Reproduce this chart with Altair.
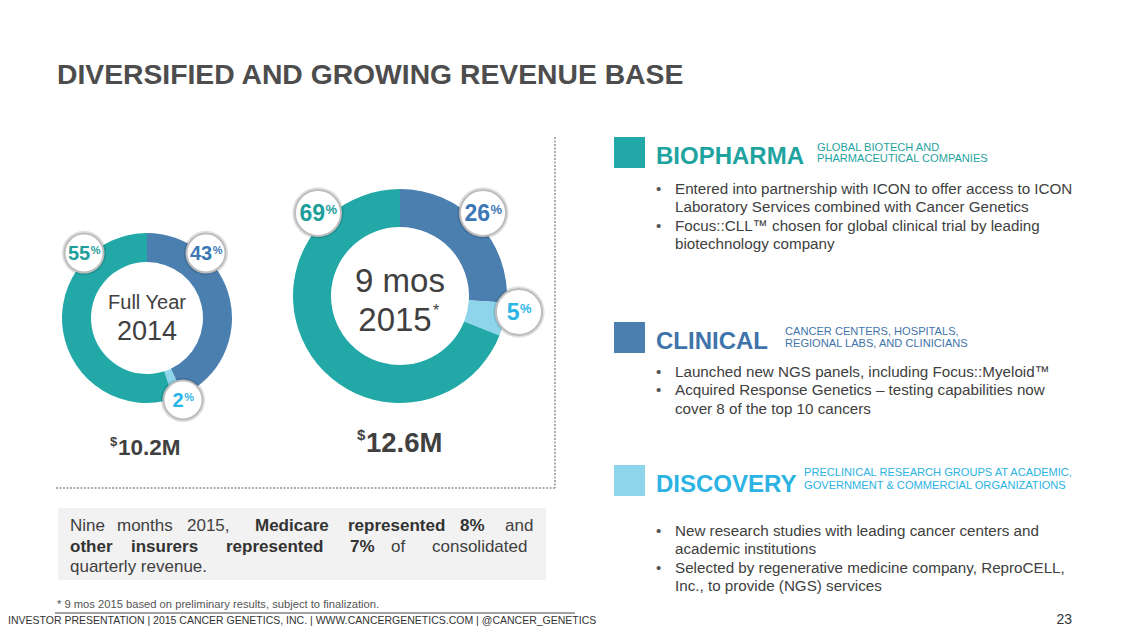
import math
import altair as alt
import pandas as pd

# ---------------- data ----------------
segments = ["Clinical", "Discovery", "Biopharma"]
share_2014 = [43, 2, 55]
share_2015 = [26, 5, 69]
period_labels = [["Full Year", "2014"], ["9 mos", "2015"]]
revenue_musd = [10.2, 12.6]

title = "DIVERSIFIED AND GROWING REVENUE BASE"
segment_titles = ["BIOPHARMA", "CLINICAL", "DISCOVERY"]
segment_keys = ["Biopharma", "Clinical", "Discovery"]
segment_subtitles = [
    ["GLOBAL BIOTECH AND", "PHARMACEUTICAL COMPANIES"],
    ["CANCER CENTERS, HOSPITALS,", "REGIONAL LABS, AND CLINICIANS"],
    ["PRECLINICAL RESEARCH GROUPS AT ACADEMIC,", "GOVERNMENT & COMMERCIAL ORGANIZATIONS"],
]
segment_bullets = [
    [["Entered into partnership with ICON to offer access to ICON",
      "Laboratory Services combined with Cancer Genetics"],
     ["Focus::CLL\u2122 chosen for global clinical trial by leading",
      "biotechnology company"]],
    [["Launched new NGS panels, including Focus::Myeloid\u2122"],
     ["Acquired Response Genetics \u2013 testing capabilities now",
      "cover 8 of the top 10 cancers"]],
    [["New research studies with leading cancer centers and",
      "academic institutions"],
     ["Selected by regenerative medicine company, ReproCELL,",
      "Inc., to provide (NGS) services"]],
]
box_words = [
    [("Nine", False), ("months", False), ("2015,", False), ("Medicare", True),
     ("represented", True), ("8%", True), ("and", False)],
    [("other", True), ("insurers", True), ("represented", True), ("7%", True),
     ("of", False), ("consolidated", False)],
    [("quarterly revenue.", False)],
]
footnote = "* 9 mos 2015 based on preliminary results, subject to finalization."
footer = "INVESTOR PRESENTATION  | 2015 CANCER GENETICS, INC. | WWW.CANCERGENETICS.COM | @CANCER_GENETICS"
page_number = "23"

# ---------------- layout / style ----------------
W, H = 1113, 619
OFF = 8
FONT = "Liberation Sans"
SEG_FILL = {"Clinical": "#4A7FB0", "Discovery": "#8ED5EC", "Biopharma": "#22A9A7"}
SEG_TEXT = {"Clinical": "#3F74AA", "Discovery": "#2BB3E3", "Biopharma": "#1FA39F"}
SEG_LABEL = {"Clinical": "#3C77B6", "Discovery": "#2BB5E6", "Biopharma": "#1E9E9A"}
DARK = "#404040"

XS = alt.Scale(domain=[0, W], nice=False, zero=False)
YS = alt.Scale(domain=[0, H], reverse=True, nice=False, zero=False)


def xf(name):
    return alt.X(f"{name}:Q", scale=XS, axis=None)


def yf(name):
    return alt.Y(f"{name}:Q", scale=YS, axis=None)


X, Y = xf("x"), yf("y")
X2 = alt.X2("x2:Q")
Y2 = alt.Y2("y2:Q")


def P(v):
    return v - OFF


def text_layer(rows, size, color, weight="normal", align="left"):
    df = pd.DataFrame([{"t": t, "x": P(x), "y": P(y)} for t, x, y in rows])
    return alt.Chart(df).mark_text(
        font=FONT, fontSize=size, color=color, fontWeight=weight,
        align=align, baseline="alphabetic"
    ).encode(x=X, y=Y, text="t:N")


layers = []

# title
layers.append(text_layer([(title, 57, 84)], 28.3, "#4D4D4D", "bold"))

# dotted separators
sep = pd.DataFrame([
    {"x": P(555), "x2": P(555), "y": P(137), "y2": P(488)},
    {"x": P(56), "x2": P(555), "y": P(488), "y2": P(488)},
])
layers.append(alt.Chart(sep).mark_rule(color="#ADADAD", strokeWidth=2, strokeDash=[2, 1.5])
              .encode(x=X, x2=X2, y=Y, y2=Y2))

# donuts
donut_geo = [
    {"cx": 147, "cy": 318, "rin": 56, "rout": 85},
    {"cx": 400, "cy": 296, "rin": 69, "rout": 107},
]
for shares, g in zip([share_2014, share_2015], donut_geo):
    df = pd.DataFrame({"segment": segments, "share": shares, "k": range(len(segments))})
    df["fill"] = [SEG_FILL[s] for s in segments]
    layers.append(
        alt.Chart(df).mark_arc(innerRadius=g["rin"], outerRadius=g["rout"]).encode(
            theta=alt.Theta("share:Q", stack=True),
            order=alt.Order("k:Q"),
            color=alt.Color("fill:N", scale=None),
            x=alt.value(P(g["cx"])), y=alt.value(P(g["cy"])),
        )
    )

# center labels
layers.append(text_layer([(period_labels[0][0], 147, 309)], 20, DARK, align="center"))
layers.append(text_layer([(period_labels[0][1], 147, 340)], 27, DARK, align="center"))
layers.append(text_layer([(period_labels[1][0], 400, 292)], 33, DARK, align="center"))
layers.append(text_layer([(period_labels[1][1], 395, 331)], 33, DARK, align="center"))
layers.append(text_layer([("*", 433, 316)], 16, DARK))

# percentage bubbles
bubble_pos = [
    {"Biopharma": (84, 253), "Clinical": (206, 253), "Discovery": (183, 400), "r": 22, "fs": 20, "ps": 11},
    {"Biopharma": (318, 213), "Clinical": (483, 213), "Discovery": (519, 312), "r": 26, "fs": 23, "ps": 13},
]
for shares, bp in zip([share_2014, share_2015], bubble_pos):
    rows = []
    for s, v in zip(segments, shares):
        cx, cy = bp[s]
        digits = str(v)
        wd = 0.556 * bp["fs"] * len(digits)
        wp = 0.889 * bp["ps"]
        start = cx - (wd + wp) / 2
        rows.append({"s": s, "v": v, "cx": P(cx), "cy": P(cy),
                     "xd": P(start + wd), "yd": P(cy + 0.36 * bp["fs"]),
                     "xp": P(start + wd + 0.5), "yp": P(cy - 0.36 * bp["fs"] + 0.72 * bp["ps"]),
                     "col": SEG_LABEL[s], "lab": digits, "pct": "%"})
    bdf = pd.DataFrame(rows)
    area = math.pi * bp["r"] ** 2
    layers.append(alt.Chart(bdf).mark_circle(size=math.pi * (bp["r"] + 3) ** 2, color="#000000", opacity=0.12)
                  .encode(x=xf("cx"), y=yf("cy")))
    layers.append(alt.Chart(bdf).mark_circle(size=area, fill="#FFFFFF", opacity=1,
                                              stroke="#BDBDBD", strokeWidth=2)
                  .encode(x=xf("cx"), y=yf("cy")))
    layers.append(alt.Chart(bdf).mark_text(font=FONT, fontSize=bp["fs"], fontWeight="bold",
                                            align="right", baseline="alphabetic")
                  .encode(x=xf("xd"), y=yf("yd"),
                          text="lab:N", color=alt.Color("col:N", scale=None)))
    layers.append(alt.Chart(bdf).mark_text(font=FONT, fontSize=bp["ps"], fontWeight="bold",
                                            align="left", baseline="alphabetic")
                  .encode(x=xf("xp"), y=yf("yp"),
                          text="pct:N", color=alt.Color("col:N", scale=None)))

# revenue totals
rev_geo = [
    {"xd": 110, "yd": 446, "ds": 13, "x": 118, "y": 455, "fs": 22.5},
    {"xd": 357, "yd": 440, "ds": 15, "x": 366, "y": 452, "fs": 27.5},
]
for val, g in zip(revenue_musd, rev_geo):
    layers.append(text_layer([("$", g["xd"], g["yd"])], g["ds"], DARK, "bold"))
    layers.append(text_layer([(f"{val:.1f}M", g["x"], g["y"])], g["fs"], DARK, "bold"))

# grey note box
box = pd.DataFrame([{"x": P(58), "x2": P(546), "y": P(508), "y2": P(580)}])
layers.append(alt.Chart(box).mark_rect(color="#F2F2F2").encode(x=X, x2=X2, y=Y, y2=Y2))
word_x = [[70, 117, 187, 255, 348, 460, 505], [70, 131, 226, 350, 391, 432], [70]]
line_y = [531, 552, 572]
norm_rows, bold_rows = [], []
for words, xs, yb in zip(box_words, word_x, line_y):
    for (w, b), xx in zip(words, xs):
        (bold_rows if b else norm_rows).append((w, xx, yb))
layers.append(text_layer(norm_rows, 17, DARK))
layers.append(text_layer(bold_rows, 17, "#333333", "bold"))

# footnote + rule + footer
layers.append(text_layer([(footnote, 57, 608)], 11.2, "#555555"))
fl = pd.DataFrame([{"x": P(55), "x2": P(575), "y": P(613), "y2": P(613)}])
layers.append(alt.Chart(fl).mark_rule(color="#444444", strokeWidth=1).encode(x=X, x2=X2, y=Y, y2=Y2))
layers.append(text_layer([(footer, 8, 624)], 10.5, "#333333"))
layers.append(text_layer([(page_number, 1072, 624)], 14, "#333333", align="right"))

# right-hand segment panel
block_top = [137, 322, 465]
sub_x = [817, 785, 804]
sub_dy = [[14, 25], [13, 25], [11, 24]]
bullet_dy = [57, 55, 71]
LINE = 18.4
for i, key in enumerate(segment_keys):
    top = block_top[i]
    sq = pd.DataFrame([{"x": P(614), "x2": P(645), "y": P(top), "y2": P(top + 31)}])
    layers.append(alt.Chart(sq).mark_rect(color=SEG_FILL[key]).encode(x=X, x2=X2, y=Y, y2=Y2))
    layers.append(text_layer([(segment_titles[i], 656, top + 27)], 24, SEG_TEXT[key], "bold"))
    layers.append(text_layer([(segment_subtitles[i][j], sub_x[i], top + sub_dy[i][j]) for j in range(2)],
                             11.1, SEG_TEXT[key]))
    rows, dots = [], []
    yb = top + bullet_dy[i]
    for bullet in segment_bullets[i]:
        dots.append(("\u2022", 656, yb))
        for line in bullet:
            rows.append((line, 675, yb))
            yb += LINE
    layers.append(text_layer(dots, 15, "#555555"))
    layers.append(text_layer(rows, 15.2, DARK))

chart = alt.layer(*layers).properties(
    width=W, height=H, padding=0, autosize=alt.AutoSizeParams(type="none"),
    background="#FFFFFF"
).configure_view(stroke=None)

chart.save("out.html", embed_options={"renderer": "svg", "actions": False})
